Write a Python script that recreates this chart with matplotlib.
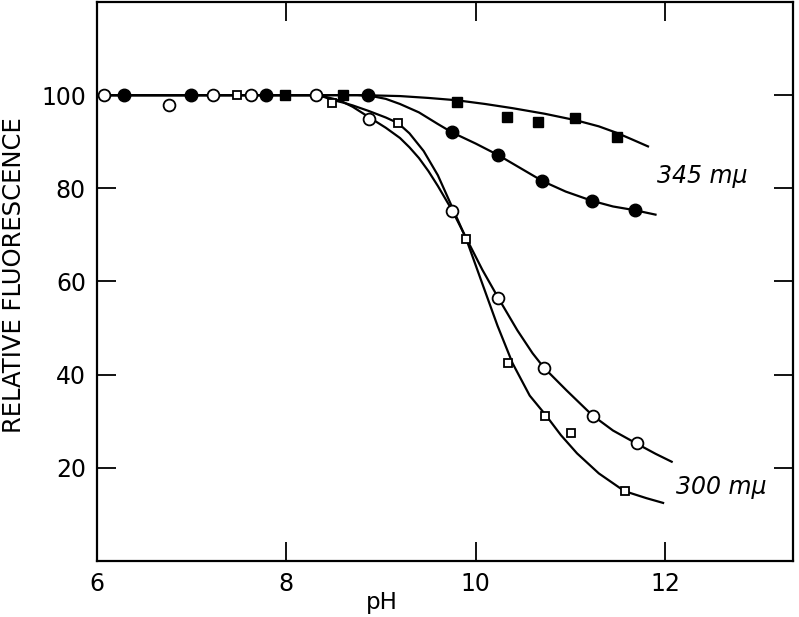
import matplotlib.pyplot as plt

# open circles, 300 mu
oc_ph = [6.07, 6.76, 7.23, 7.63, 8.31, 8.87, 9.75, 10.24, 10.72, 11.24, 11.70]
oc_val = [100, 97.9, 100, 100, 100, 94.9, 75.1, 56.4, 41.5, 31.1, 25.3]

# open squares, 300 mu
os_ph = [7.48, 8.48, 9.18, 9.90, 10.34, 10.73, 11.01, 11.58]
os_val = [100, 98.3, 94.0, 69.1, 42.4, 31.1, 27.4, 15.0]

# filled circles, 345 mu
fc_ph = [6.29, 6.99, 7.79, 8.86, 9.75, 10.24, 10.70, 11.23, 11.68]
fc_val = [100, 100, 100, 100, 92.0, 87.1, 81.5, 77.2, 75.3]

# filled squares, 345 mu
fs_ph = [7.99, 8.60, 9.80, 10.33, 10.66, 11.05, 11.49]
fs_val = [100, 100, 98.5, 95.3, 94.3, 95.0, 91.0]

# hand-drawn curves
c1_ph = [6.0, 8.8, 9.2, 9.5, 9.8, 10.1, 10.39, 10.73, 11.06, 11.3, 11.49, 11.65, 11.83]
c1_val = [100, 100, 99.8, 99.4, 98.9, 98.1, 97.2, 96.0, 94.6, 93.3, 91.9, 90.5, 88.9]

c2_ph = [6.0, 8.75, 8.9, 9.05, 9.2, 9.4, 9.6, 9.75, 10.0, 10.24, 10.5, 10.71,
         10.95, 11.23, 11.45, 11.68, 11.91]
c2_val = [100, 100, 99.8, 99.2, 98.1, 96.3, 93.8, 92.0, 89.6, 87.1, 84.0, 81.5,
          79.3, 77.3, 76.1, 75.3, 74.3]

c3_ph = [6.0, 8.3, 8.4, 8.5, 8.6, 8.7, 8.87, 9.05, 9.2, 9.3, 9.4, 9.5, 9.6, 9.75,
         9.9, 10.07, 10.24, 10.44, 10.6, 10.72, 10.96, 11.23, 11.45, 11.69, 11.9, 12.08]
c3_val = [100, 100, 99.7, 99.2, 98.5, 97.5, 95.3, 93.0, 90.8, 88.8, 86.5, 83.7, 80.5,
          75.3, 69.3, 62.5, 56.4, 49.5, 44.6, 41.5, 36.6, 31.3, 28.0, 25.3, 23.0, 21.2]

c4_ph = [6.0, 8.3, 8.4, 8.48, 8.6, 8.7, 8.87, 9.05, 9.18, 9.3, 9.45, 9.6, 9.75, 9.9,
         10.07, 10.23, 10.39, 10.57, 10.74, 10.9, 11.07, 11.3, 11.57, 11.8, 11.99]
c4_val = [100, 100, 99.6, 99.0, 98.4, 97.8, 96.6, 95.2, 94.0, 91.8, 88.0, 82.8, 76.0,
          69.1, 59.5, 50.5, 42.4, 35.5, 31.3, 27.0, 23.1, 18.8, 15.0, 13.5, 12.4]

x_ticks = [6, 8, 10, 12]
y_ticks = [20, 40, 60, 80, 100]

fig = plt.figure(figsize=(7.99, 6.17), dpi=100)
ax = fig.add_axes([0.1214, 0.0908, 0.871, 0.906])

for px, py in [(c1_ph, c1_val), (c2_ph, c2_val), (c3_ph, c3_val), (c4_ph, c4_val)]:
    ax.plot(px, py, color='black', lw=1.6, zorder=2, solid_capstyle='butt')

ax.plot(oc_ph, oc_val, 'o', ms=8.5, mfc='white', mec='black', mew=1.3, zorder=3)
ax.plot(os_ph, os_val, 's', ms=6.2, mfc='white', mec='black', mew=1.3, zorder=3)
ax.plot(fc_ph, fc_val, 'o', ms=9, mfc='black', mec='black', zorder=3)
ax.plot(fs_ph, fs_val, 's', ms=7, mfc='black', mec='black', zorder=3)

ax.text(11.91, 82.6, '345 m\u03bc', style='italic', fontsize=17, ha='left', va='center')
ax.text(12.12, 15.8, '300 m\u03bc', style='italic', fontsize=17, ha='left', va='center')

ax.set_xlim(6, 13.35)
ax.set_ylim(0, 120)
ax.set_xticks(x_ticks)
ax.set_xticklabels([str(v) for v in x_ticks])
ax.set_yticks(y_ticks)
ax.set_yticklabels([str(v) for v in y_ticks])
ax.tick_params(direction='in', length=13.5, width=1.3, labelsize=17, pad=8,
               top=True, right=True)
for s in ax.spines.values():
    s.set_linewidth(1.6)

fig.text(0.018, 0.554, 'RELATIVE FLUORESCENCE', rotation=90, fontsize=17.5,
         ha='center', va='center')
fig.text(0.478, 0.0227, 'pH', fontsize=16.5, ha='center', va='center')

fig.savefig('out.png', dpi=100)
